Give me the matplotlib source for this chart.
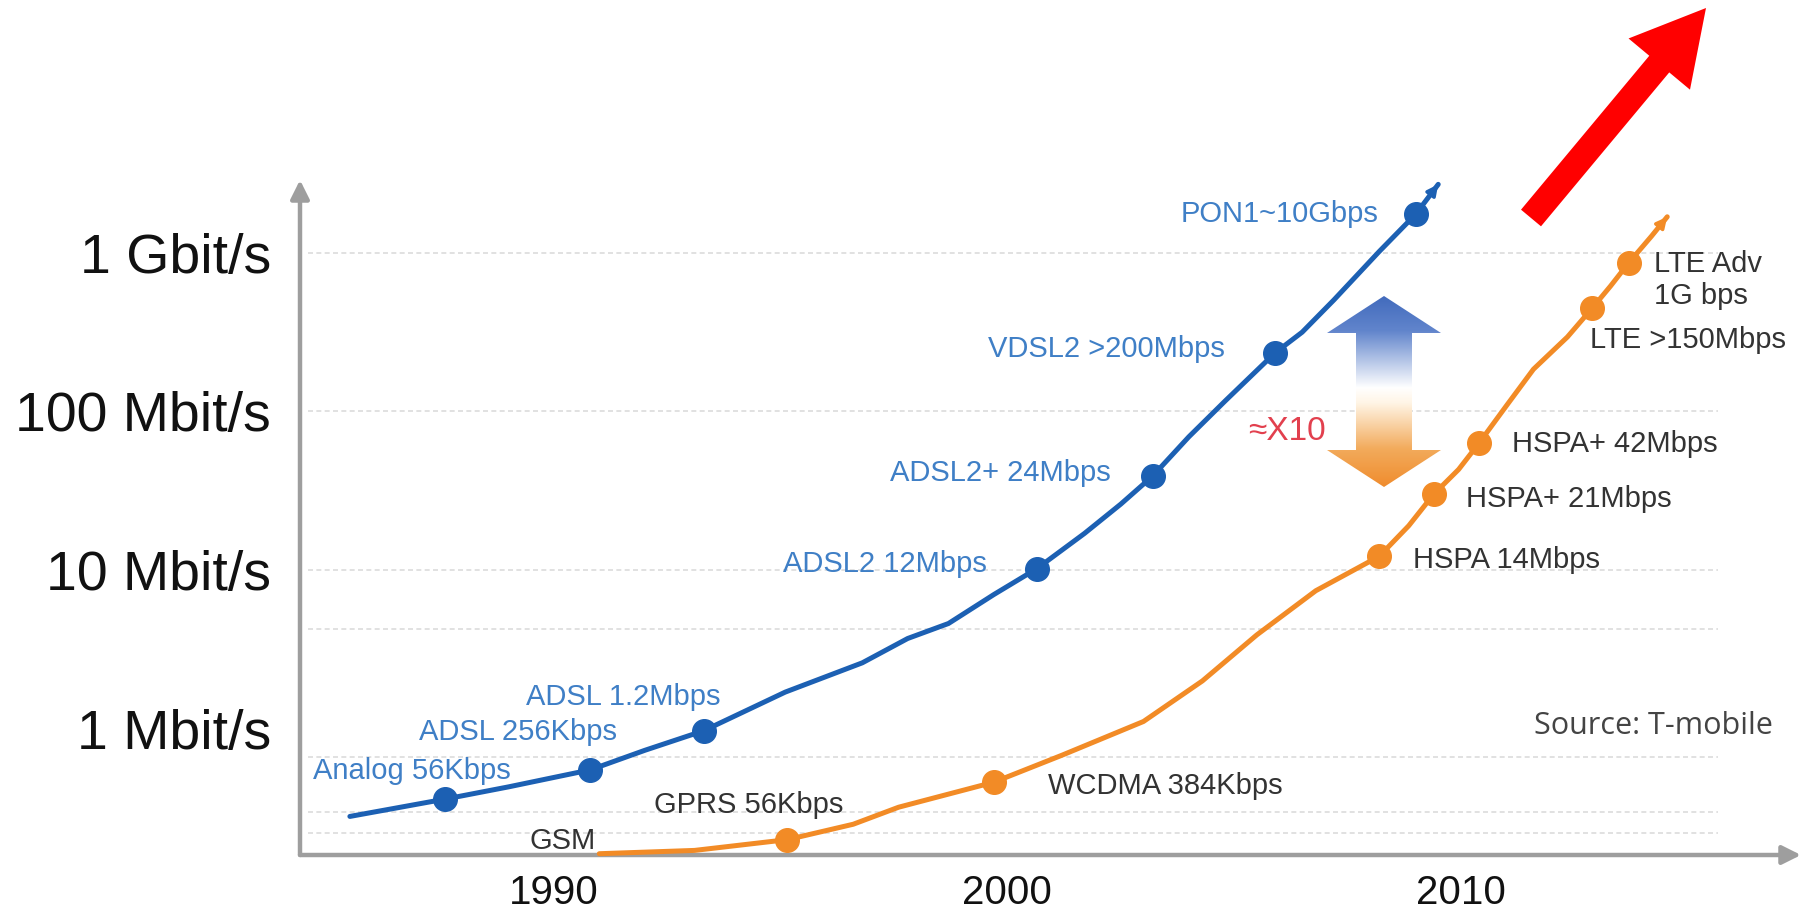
import numpy as np
import matplotlib
matplotlib.use('Agg')
import matplotlib.pyplot as plt
from matplotlib.patches import Polygon, FancyArrow
from matplotlib.ticker import NullLocator

plt.rcParams['font.family'] = ['Liberation Sans', 'DejaVu Sans']

# fixed access (DSL / fibre) speed curve, Mbit/s
fixed_years = [1985.5, 1987.6, 1989.0, 1990.8, 1992.0, 1993.3, 1995.1, 1996.8,
               1997.8, 1998.7, 1999.7, 2000.65, 2001.7, 2002.5, 2003.2, 2004.0,
               2004.8, 2005.9, 2006.5, 2007.2, 2008.2, 2009.0, 2009.5]
fixed_speed = [0.28, 0.36, 0.43, 0.55, 0.73, 0.97, 1.7, 2.6,
               3.7, 4.6, 7.0, 10.2, 17, 26, 39, 69,
               116, 233, 315, 503, 1016, 1740, 2690]
fixed_ms_years = [1987.6, 1990.8, 1993.3, 2000.65, 2003.2, 2005.9, 2009.0]
fixed_ms_speed = [0.36, 0.55, 0.97, 10.2, 39, 233, 1740]
fixed_labels = ['Analog 56Kbps', 'ADSL 256Kbps', 'ADSL 1.2Mbps', 'ADSL2 12Mbps',
                'ADSL2+ 24Mbps', 'VDSL2 >200Mbps', 'PON1~10Gbps']

# mobile speed curve, Mbit/s
mobile_years = [1991.0, 1993.1, 1995.15, 1996.6, 1997.6, 1999.7, 2001.2, 2003.0,
                2004.3, 2005.5, 2006.8, 2008.2, 2008.85, 2009.4, 2009.95, 2010.4,
                2011.0, 2011.6, 2012.35, 2012.9, 2013.3, 2013.7, 2014.2, 2014.55]
mobile_speed = [0.163, 0.171, 0.20, 0.25, 0.32, 0.46, 0.68, 1.11,
                2.0, 3.9, 7.4, 12.2, 19, 30, 43, 63,
                108, 184, 294, 448, 615, 861, 1265, 1680]
mobile_ms_years = [1995.15, 1999.7, 2008.2, 2009.4, 2010.4, 2012.9, 2013.7]
mobile_ms_speed = [0.20, 0.46, 12.2, 30, 63, 448, 861]
mobile_labels = ['GPRS 56Kbps', 'WCDMA 384Kbps', 'HSPA 14Mbps', 'HSPA+ 21Mbps',
                 'HSPA+ 42Mbps', 'LTE >150Mbps', 'LTE Adv\n1G bps']

y_ticks = [1, 10, 100, 1000]
y_ticklabels = ['1 Mbit/s', '10 Mbit/s', '100 Mbit/s', '1 Gbit/s']
x_ticks = [1990, 2000, 2010]
grid_levels = [1000, 100, 10, 4.25, 0.664, 0.299, 0.22]

BLUE = '#1c60b3'
BLUE_TXT = '#3f7fc6'
ORANGE = '#f28b26'
GREY = '#9e9e9e'
DARK = '#333333'
LABEL_SIZE = 21

fig = plt.figure(figsize=(18.1, 9.18), dpi=100)
ax = fig.add_axes([300 / 1810, 1 - 855 / 918, 1501 / 1810, 675 / 918])
ax.set_yscale('log')
ax.set_xlim(1984.4, 2017.5)
ax.set_ylim(0.16, 2865)
for s in ax.spines.values():
    s.set_visible(False)

for g in grid_levels:
    ax.axhline(g, xmin=0.005, xmax=0.945, color='#dcdcdc', lw=1.2,
               ls=(0, (3, 2)), zorder=0)

# axis arrows
ax.annotate('', xy=(0, 1), xytext=(0, 0), xycoords='axes fraction',
            arrowprops=dict(arrowstyle='-|>', color=GREY, lw=3.2,
                            mutation_scale=28, shrinkA=0, shrinkB=0),
            annotation_clip=False)
ax.annotate('', xy=(1, 0), xytext=(0, 0), xycoords='axes fraction',
            arrowprops=dict(arrowstyle='-|>', color=GREY, lw=3.2,
                            mutation_scale=28, shrinkA=0, shrinkB=0),
            annotation_clip=False)

ax.set_yticks(y_ticks)
ax.set_yticklabels(y_ticklabels)
ax.yaxis.set_minor_locator(NullLocator())
ax.set_xticks(x_ticks)
ax.set_xticklabels([str(x) for x in x_ticks])
ax.tick_params(axis='y', length=0, labelsize=40, pad=21, labelcolor='#111111')
ax.tick_params(axis='x', length=0, labelsize=29, pad=14, labelcolor='#111111')

# curves
ax.plot(fixed_years, fixed_speed, color=BLUE, lw=3.6, solid_joinstyle='round',
        solid_capstyle='round', zorder=3, clip_on=False)
ax.plot(mobile_years, mobile_speed, color=ORANGE, lw=3.6, solid_joinstyle='round',
        solid_capstyle='round', zorder=3, clip_on=False)
ax.plot(fixed_ms_years, fixed_ms_speed, 'o', color=BLUE, ms=17, zorder=4)
ax.plot(mobile_ms_years, mobile_ms_speed, 'o', color=ORANGE, ms=17, zorder=4)

for xs, ys, c in [(fixed_years, fixed_speed, BLUE), (mobile_years, mobile_speed, ORANGE)]:
    ax.annotate('', xy=(xs[-1], ys[-1]), xytext=(xs[-2], ys[-2]),
                arrowprops=dict(arrowstyle='-|>', color=c, lw=2.5,
                                mutation_scale=16, shrinkA=0, shrinkB=0),
                annotation_clip=False, zorder=4)

# milestone labels: (offset in points, horizontal alignment)
fixed_pos = [((-24, 20), 'center'), ((-52, 27), 'center'), ((-58, 24), 'center'),
             ((-36, 3), 'right'), ((-30, 2.5), 'right'), ((-36, 3), 'right'),
             ((-27, 0), 'right')]
mobile_pos = [((-28, 25), 'center'), ((39, -2.5), 'left'), ((24, -2.5), 'left'),
              ((23, -3.3), 'left'), ((24, -1), 'left'), ((-1.7, -23), 'left'),
              ((18, -12.5), 'left')]

for x, y, t, (off, ha) in zip(fixed_ms_years, fixed_ms_speed, fixed_labels, fixed_pos):
    ax.annotate(t, (x, y), xytext=off, textcoords='offset points', ha=ha,
                va='center', fontsize=LABEL_SIZE, color=BLUE_TXT)
for x, y, t, (off, ha) in zip(mobile_ms_years, mobile_ms_speed, mobile_labels, mobile_pos):
    ax.annotate(t, (x, y), xytext=off, textcoords='offset points', ha=ha,
                va='center', fontsize=LABEL_SIZE, color=DARK, linespacing=1.2)
ax.annotate('GSM', (mobile_years[0], mobile_speed[0]), xytext=(-2.5, 9),
            textcoords='offset points', ha='right', va='center',
            fontsize=LABEL_SIZE, color=DARK, annotation_clip=False)

# overlay in pixel units for the decorative arrows and notes
ov = fig.add_axes([0, 0, 1, 1], facecolor='none')
ov.axis('off')

# blue-to-orange double arrow
cx = 1384
shape = [(cx, 296), (1441, 333), (1412, 333), (1412, 450), (1441, 450), (cx, 487),
         (1327, 450), (1356, 450), (1356, 333), (1327, 333)]
poly = Polygon(shape, closed=True, facecolor='none', edgecolor='none')
ov.add_patch(poly)
t = np.linspace(0, 1, 256)
stops = [0, 0.18, 0.48, 0.56, 0.8, 1]
r = np.interp(t, stops, [0.26, 0.38, 1.0, 1.0, 0.95, 0.94])
g = np.interp(t, stops, [0.42, 0.52, 1.0, 0.96, 0.67, 0.55])
b = np.interp(t, stops, [0.74, 0.80, 1.0, 0.90, 0.36, 0.18])
grad = np.stack([r, g, b], axis=-1)[:, None, :].repeat(4, axis=1)
im = ov.imshow(grad, extent=(1327, 1441, 487, 296), origin='upper',
               aspect='auto', interpolation='bilinear', zorder=5)
im.set_clip_path(poly)
ov.set_xlim(0, 1810)
ov.set_ylim(918, 0)

ov.text(1287, 431, '≈X10', color='#e2404e', fontsize=24, ha='center', va='center')
ov.text(1653, 726, 'Source: T-mobile', color='#444444', fontsize=22,
        family=['Open Sans', 'DejaVu Sans'], ha='center', va='center')

# big red trend arrow
ov.add_patch(FancyArrow(1531, 218, 175, -210, width=26, head_width=80,
                        head_length=73, length_includes_head=True,
                        color='#ff0000', lw=0, zorder=6))

fig.savefig('out.png', dpi=100)
